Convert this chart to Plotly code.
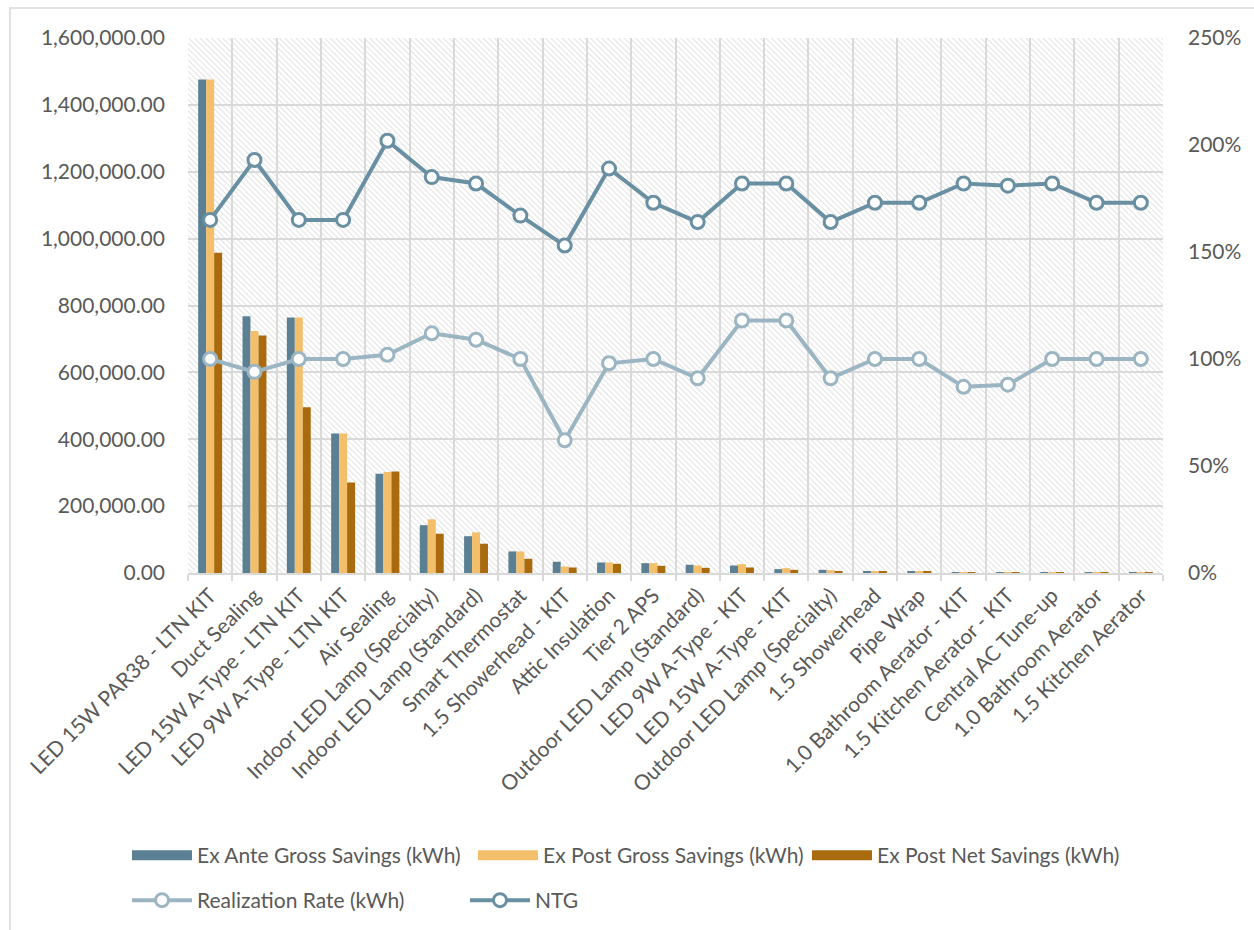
import base64
import plotly.graph_objects as go

categories = [
    "LED 15W PAR38 - LTN KIT", "Duct Sealing", "LED 15W A-Type - LTN KIT",
    "LED 9W A-Type - LTN KIT", "Air Sealing", "Indoor LED Lamp (Specialty)",
    "Indoor LED Lamp (Standard)", "Smart Thermostat", "1.5 Showerhead - KIT",
    "Attic Insulation", "Tier 2 APS", "Outdoor LED Lamp (Standard)",
    "LED 9W A-Type - KIT", "LED 15W A-Type - KIT", "Outdoor LED Lamp (Specialty)",
    "1.5 Showerhead", "Pipe Wrap", "1.0 Bathroom Aerator - KIT",
    "1.5 Kitchen Aerator - KIT", "Central AC Tune-up", "1.0 Bathroom Aerator",
    "1.5 Kitchen Aerator",
]

ex_ante_gross = [1476000, 768000, 764000, 417000, 297000, 143000, 110000, 64500,
                 33600, 31500, 29400, 24500, 22500, 11500, 9500, 4500, 4500,
                 1500, 800, 600, 300, 200]
ex_post_gross = [1476000, 724000, 764000, 417000, 302000, 160500, 121500, 64500,
                 19500, 31500, 29400, 22500, 26500, 14500, 8500, 4500, 4500,
                 1500, 800, 600, 300, 200]
ex_post_net = [958000, 710000, 496000, 271000, 303500, 117500, 87600, 42500,
               16500, 27500, 21500, 15500, 16500, 9500, 5000, 3500, 3500,
               1300, 700, 500, 250, 150]
realization_rate = [1.00, 0.94, 1.00, 1.00, 1.02, 1.12, 1.09, 1.00, 0.62, 0.98,
                    1.00, 0.91, 1.18, 1.18, 0.91, 1.00, 1.00, 0.87, 0.88, 1.00,
                    1.00, 1.00]
ntg = [1.65, 1.93, 1.65, 1.65, 2.02, 1.85, 1.82, 1.67, 1.53, 1.89, 1.73, 1.64,
       1.82, 1.82, 1.64, 1.73, 1.73, 1.82, 1.81, 1.82, 1.73, 1.73]

bar_names = ["Ex Ante Gross Savings (kWh)", "Ex Post Gross Savings (kWh)",
             "Ex Post Net Savings (kWh)"]
line_names = ["Realization Rate (kWh)", "NTG"]

C_ANTE = "#5b7f93"
C_POST = "#f4bf6a"
C_NET = "#a96b0e"
C_RR = "#9bb5c3"
C_NTG = "#698fa3"
TXT = "#595959"
GRID = "#d9d9d9"
FONT = "Lato"
FS = 21

FW, FH = 1254, 930
L, R, T, B = 188, 91, 38, 357
W, H = FW - L - R, FH - T - B

# one legend box per entry: (left px, top px) in the page
legend_pos = [(127, 835), (473, 835), (807, 835), (127, 880), (465, 880)]
legend_ids = ["legend", "legend2", "legend3", "legend4", "legend5"]

fig = go.Figure()
k = 0
for name, vals, col in zip(bar_names, [ex_ante_gross, ex_post_gross, ex_post_net],
                           [C_ANTE, C_POST, C_NET]):
    fig.add_trace(go.Bar(x=categories, y=vals, name=name, legendgroup=name,
                         showlegend=False, marker=dict(color=col, line=dict(width=0))))
    # legend swatch (wide rectangle like the original)
    fig.add_trace(go.Scatter(x=[None], y=[None], name=name, legendgroup=name,
                             mode="lines", line=dict(color=col, width=14),
                             legend=legend_ids[k]))
    k += 1

for name, vals, col in zip(line_names, [realization_rate, ntg], [C_RR, C_NTG]):
    fig.add_trace(go.Scatter(x=categories, y=vals, name=name, yaxis="y2",
                             mode="lines+markers", legend=legend_ids[k],
                             line=dict(color=col, width=4),
                             marker=dict(symbol="circle", size=13, color="white",
                                         line=dict(color=col, width=3))))
    k += 1

# hatched plot-area background
svg = (f'<svg xmlns="http://www.w3.org/2000/svg" width="{W}" height="{H}">'
       '<defs><pattern id="p" width="4" height="4" patternUnits="userSpaceOnUse" '
       'patternTransform="rotate(-45)"><rect width="4" height="4" fill="white"/>'
       '<line x1="0" y1="0" x2="0" y2="4" stroke="#d8d8d8" stroke-width="1.4"/>'
       '</pattern></defs><rect width="100%" height="100%" fill="url(#p)"/></svg>')
src = "data:image/svg+xml;base64," + base64.b64encode(svg.encode()).decode()


def px(x):
    return (x - L) / W


def py(y):
    return (FH - B - y) / H


legends = {}
for lid, (lx, ly) in zip(legend_ids, legend_pos):
    legends[lid] = dict(orientation="h", xanchor="left", yanchor="top",
                        xref="container", yref="container",
                        x=lx / FW, y=1 - ly / FH,
                        itemwidth=60, font=dict(size=FS, color=TXT),
                        bgcolor="rgba(0,0,0,0)")

fig.update_layout(
    width=FW, height=FH,
    margin=dict(l=L, r=R, t=T, b=B, pad=0),
    paper_bgcolor="white", plot_bgcolor="rgba(0,0,0,0)",
    font=dict(family=FONT, size=FS, color=TXT),
    barmode="group", bargap=0.46, bargroupgap=0,
    images=[dict(source=src, xref="paper", yref="paper", x=0, y=1,
                 sizex=1, sizey=1, xanchor="left", yanchor="top",
                 sizing="stretch", layer="below")],
    shapes=[dict(type="rect", xref="paper", yref="paper",
                 x0=px(10), x1=px(1300), y0=py(1000), y1=py(8),
                 line=dict(color="#d9d9d9", width=1.5), fillcolor="rgba(0,0,0,0)",
                 layer="below")],
    xaxis=dict(type="category", range=[-0.5, len(categories) - 0.5],
               tickangle=-45, tickson="boundaries",
               showgrid=True, gridcolor=GRID, gridwidth=2,
               ticks="outside", ticklen=6, tickcolor=GRID, tickwidth=1.5,
               showline=True, linecolor=GRID, linewidth=2, automargin=False,
               tickfont=dict(size=FS, color=TXT)),
    yaxis=dict(range=[0, 1600000], dtick=200000, tickformat=",.2f",
               showgrid=True, gridcolor=GRID, gridwidth=2, zeroline=False,
               automargin=False,
               ticks="", ticklabelstandoff=22, tickfont=dict(size=FS, color=TXT)),
    yaxis2=dict(range=[0, 2.5], dtick=0.5, tickformat=".0%", overlaying="y",
                side="right", showgrid=False, zeroline=False, ticks="",
                automargin=False,
                ticklabelstandoff=24, tickfont=dict(size=FS, color=TXT)),
    showlegend=True,
    **legends,
)

fig.write_html("out.html")
